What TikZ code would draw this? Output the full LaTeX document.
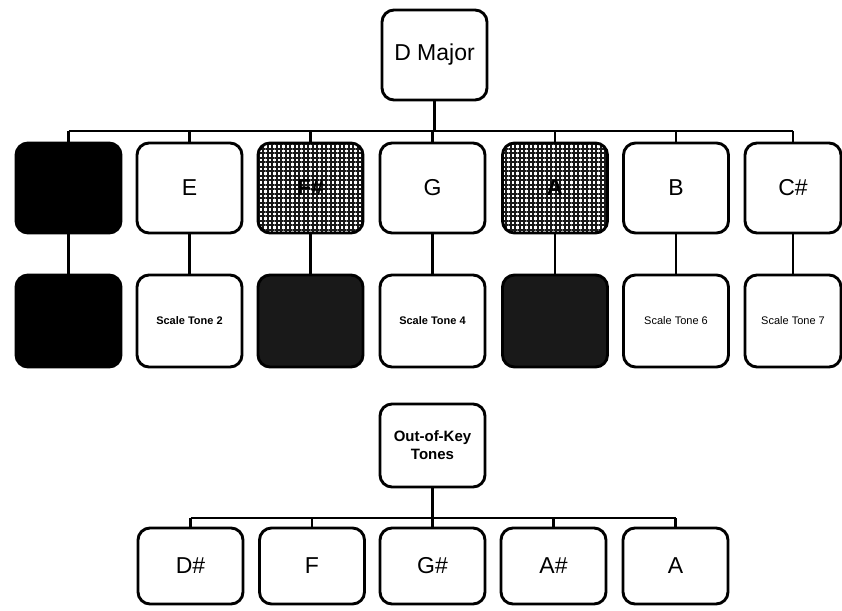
\documentclass[tikz,border=0pt]{standalone}
\usepackage{fontspec}
\setmainfont{Liberation Sans}
\usetikzlibrary{patterns.meta}
\tikzdeclarepattern{
  name=mygrid,
  type=uncolored,
  bottom left={(-.1pt,-.1pt)},
  top right={(4.6pt,4.6pt)},
  tile size={(4.5pt,4.5pt)},
  code={\draw[line width=1.9pt] (0pt,2.25pt) -- (4.5pt,2.25pt) (2.25pt,0pt) -- (2.25pt,4.5pt);}
}
\tikzset{
  box/.style={draw=black, line width=2.9pt, rounded corners=12pt, fill=white,
    minimum width=105pt, minimum height=90pt, inner sep=1pt, outer sep=0pt,
    align=center, font=\fontsize{23}{26}\selectfont},
  row2/.style={box, minimum height=92pt},
  blackbox/.style={fill=black},
  gridbox/.style={preaction={fill=white}, pattern={mygrid}, pattern color=black!90,
    font=\fontsize{23}{26}\selectfont\bfseries},
  darkbox/.style={fill=black!90},
  small/.style={font=\fontsize{11}{13}\selectfont\bfseries},
  smalln/.style={font=\fontsize{11}{13}\selectfont},
  bot/.style={box, minimum height=76pt},
  conn/.style={line width=2.2pt}
}
\begin{document}
\begin{tikzpicture}[x=1pt,y=-1pt]
\useasboundingbox (0,0) rectangle (842,610);
% top
\node[box] (dmaj) at (434.5,55) {D Major};
% row 1
\node[box, blackbox] (a1) at (68.5,188) {};
\node[box] (a2) at (189.5,188) {E};
\node[box, gridbox] (a3) at (310.5,188) {F\#};
\node[box] (a4) at (432.5,188) {G};
\node[box, gridbox] (a5) at (555,188) {A};
\node[box] (a6) at (676,188) {B};
\node[box, minimum width=96pt] (a7) at (793,188) {C\#};
% row 2
\node[row2, blackbox] (b1) at (68.5,321) {};
\node[row2, small] (b2) at (189.5,321) {Scale Tone 2};
\node[row2, darkbox] (b3) at (310.5,321) {};
\node[row2, small] (b4) at (432.5,321) {Scale Tone 4};
\node[row2, darkbox] (b5) at (555,321) {};
\node[row2, smalln] (b6) at (676,321) {Scale Tone 6};
\node[row2, smalln, minimum width=96pt] (b7) at (793,321) {Scale Tone 7};
% connectors top
\coordinate (bus1) at (0,131);
\draw[conn] (dmaj.south) -- (dmaj.south |- bus1);
\draw[conn] (a1.north |- bus1) -- (a7.north |- bus1);
\foreach \i in {1,...,7}{
  \draw[conn] (a\i.north) -- (a\i.north |- bus1);
  \draw[conn] (a\i.south) -- (b\i.north);
}
% out of key
\node[box, minimum height=83pt, font=\fontsize{15}{18}\selectfont\bfseries] (ok) at (432.5,445.5) {Out-of-Key\\Tones};
\node[bot] (c1) at (190.5,566) {D\#};
\node[bot] (c2) at (312,566) {F};
\node[bot] (c3) at (432.5,566) {G\#};
\node[bot] (c4) at (553.5,566) {A\#};
\node[bot] (c5) at (675.5,566) {A};
\coordinate (bus2) at (0,518);
\draw[conn] (ok.south) -- (ok.south |- bus2);
\draw[conn] (c1.north |- bus2) -- (c5.north |- bus2);
\foreach \i in {1,...,5}{
  \draw[conn] (c\i.north) -- (c\i.north |- bus2);
}
\end{tikzpicture}
\end{document}
